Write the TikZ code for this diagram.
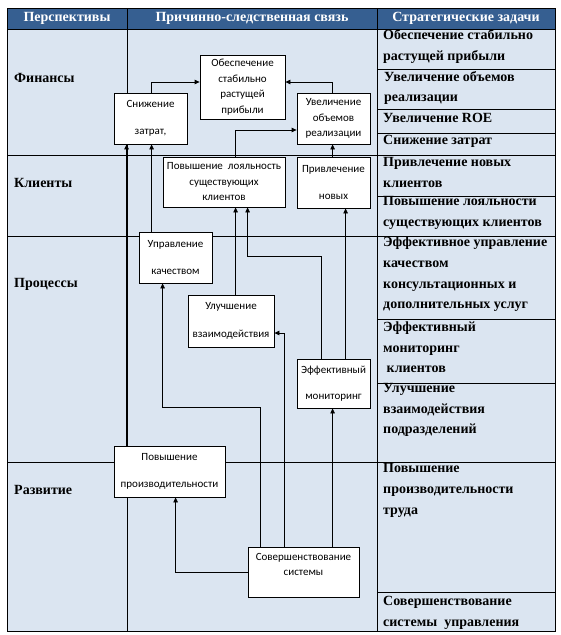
\documentclass[tikz,border=0pt]{standalone}
\usepackage{fontspec}
\setmainfont{Liberation Serif}
\newfontfamily\boxfont{Carlito}
\usetikzlibrary{arrows.meta}
\definecolor{headblue}{HTML}{365F91}
\definecolor{tintblue}{HTML}{DBE5F1}
\tikzset{
  causebox/.style={draw,line width=0.8pt,fill=white,inner sep=0pt,align=center,font=\boxfont\fontsize{11}{15.5}\selectfont},
  causearrow/.style={-{Triangle[length=5pt,width=4.5pt]},line width=0.8pt},
  gridline/.style={line width=0.8pt},
  headtext/.style={inner sep=0pt,font=\bfseries\fontsize{14}{16}\selectfont,text=white},
  viewtext/.style={anchor=west,inner sep=0pt,font=\bfseries\fontsize{14}{16}\selectfont},
  tasktext/.style={anchor=west,align=left,inner sep=0pt,font=\bfseries\fontsize{14}{20.7}\selectfont},
}
\begin{document}
\begin{tikzpicture}[x=1pt,y=-1pt]
        \useasboundingbox (0,0) rectangle (560,635);
        \fill[tintblue] (7,29) rectangle (555,631);
        \fill[headblue] (7,8) rectangle (555,29);
        \foreach \y in {29,155,236,462} \draw[gridline] (7,\y) -- (555,\y);
        \foreach \y in {69,109,133,196,319,383,592} \draw[gridline] (377,\y) -- (555,\y);
        \foreach \x in {127,377} \draw[gridline] (\x,8) -- (\x,631);
        \draw[gridline] (7,8) rectangle (555,631);
        \node[headtext] (hview) at (67,18.5) {Перспективы};
        \node[headtext] (hlink) at (252,18.5) {Причинно-следственная связь};
        \node[headtext] (htask) at (466,18.5) {Стратегические задачи};
        \node[viewtext] (vfin) at (14,78) {Финансы};
        \node[viewtext] (vcli) at (14,183) {Клиенты};
        \node[viewtext] (vpro) at (14,284) {Процессы};
        \node[viewtext] (vdev) at (14,490) {Развитие};
        \node[tasktext] (t1) at (383,46.5) {Обеспечение стабильно\\растущей прибыли};
        \node[tasktext] (t2) at (384,88) {Увеличение объемов\\реализации};
        \node[tasktext] (t3) at (383,118) {Увеличение ROE};
        \node[tasktext] (t4) at (383,141) {Снижение затрат};
        \node[tasktext] (t5) at (383,172.5) {Привлечение новых\\клиентов};
        \node[tasktext] (t6) at (383,213) {Повышение лояльности\\существующих клиентов};
        \node[tasktext] (t7) at (383,274.5) {Эффективное управление\\качеством\\консультационных и\\дополнительных услуг};
        \node[tasktext] (t8) at (383,347.5) {Эффективный\\мониторинг\\\hspace{3.5pt}клиентов};
        \node[tasktext] (t9) at (383,410) {Улучшение\\взаимодействия\\подразделений};
        \node[tasktext] (t10) at (383,490.5) {Повышение\\производительности\\труда};
        \node[tasktext] (t11) at (383,613) {Совершенствование\\системы\ \ управления};
        \node[causebox,minimum width=85pt,minimum height=64pt] (obesp) at (242.5,87) {Обеспечение\\стабильно\\растущей\\прибыли};
        \node[causebox,minimum width=73pt,minimum height=51pt] (snizh) at (150.5,118.5) {Снижение\\[12pt]затрат,};
        \node[causebox,minimum width=73pt,minimum height=51pt] (uvel) at (333.5,118.5) {Увеличение\\объемов\\реализации};
        \node[causebox,minimum width=122pt,minimum height=50pt] (loyal) at (224,182) {Повышение\ \ лояльность\\существующих\\клиентов};
        \node[causebox,minimum width=73pt,minimum height=51pt] (privl) at (333.5,182.5) {Привлечение\\[12pt]новых};
        \node[causebox,minimum width=73pt,minimum height=51pt] (uprav) at (175.5,257.5) {Управление\\[12pt]качеством};
        \node[causebox,minimum width=86pt,minimum height=52pt] (uluch) at (231,321) {Улучшение\\[12pt]взаимодействия};
        \node[causebox,minimum width=73pt,minimum height=49pt] (effek) at (333.5,383.5) {Эффективный\\[10pt]мониторинг};
        \node[causebox,minimum width=111pt,minimum height=51pt] (povysh) at (169.5,471.5) {Повышение\\[12pt]производительности};
        \node[causebox,minimum width=111pt,minimum height=50pt] (sover) at (303.5,572) {Совершенствование\\системы\\\mbox{}};
        \draw[causearrow] ([xshift=38pt]snizh.north west) |- ([yshift=5pt]obesp.west);
        \draw[causearrow] ([xshift=36pt]uvel.north west) |- ([yshift=5pt]obesp.east);
        \draw[causearrow] ([xshift=73pt]loyal.north west) |- ([yshift=-11.5pt]uvel.west);
        \draw[causearrow] ([xshift=36pt]privl.north west) -- ([xshift=36pt]uvel.south west);
        \draw[causearrow] ([xshift=13pt]uprav.north west) -- ([xshift=38pt]snizh.south west);
        \draw[causearrow,line width=1.6pt] ([xshift=13pt]povysh.north west) -- ([xshift=13pt]snizh.south west);
        \draw[causearrow] ([xshift=48pt]uluch.north west) -- ([xshift=73pt]loyal.south west);
        \draw[causearrow] ([xshift=25pt]effek.north west) -- ++(0,-102) -| ([xshift=85pt]loyal.south west);
        \draw[causearrow] ([xshift=49pt]effek.north west) -- ([xshift=49pt]privl.south west);
        \draw[causearrow] ([xshift=13pt]sover.north west) -- ++(0,-139) -| ([xshift=24pt]uprav.south west);
        \draw[causearrow] ([xshift=37pt]sover.north west) |- ([yshift=-12pt]uluch.east);
        \draw[causearrow] ([xshift=85pt]sover.north west) -- ([xshift=36pt]effek.south west);
        \draw[causearrow] (sover.west) -| ([xshift=62pt]povysh.south west);
      \end{tikzpicture}
\end{document}
